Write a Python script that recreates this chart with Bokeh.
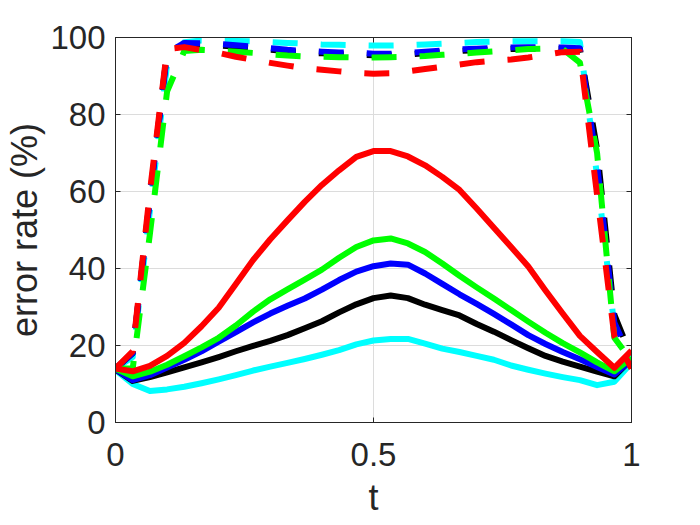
from bokeh.plotting import figure
from bokeh.models import Range1d, FixedTicker, LinearAxis
from bokeh.embed import file_html
from bokeh.resources import INLINE

t = [0.0, 0.0333, 0.0667, 0.1, 0.1333, 0.1667, 0.2, 0.2333, 0.2667, 0.3,
     0.3333, 0.3667, 0.4, 0.4333, 0.4667, 0.5, 0.5333, 0.5667, 0.6, 0.6333,
     0.6667, 0.7, 0.7333, 0.7667, 0.8, 0.8333, 0.8667, 0.9, 0.9333, 0.9667, 1.0]

red_solid = [14.0, 13.3, 14.7, 17.3, 20.7, 25.0, 29.8, 36.0, 42.2, 47.6, 52.5, 57.3, 61.7, 65.5, 69.0, 70.5,
             70.5, 69.1, 66.8, 63.8, 60.4, 55.6, 50.6, 45.6, 40.5, 34.3, 28.3, 22.5, 18.3, 14.2, 18.7]
green_solid = [14.0, 12.0, 13.2, 15.0, 17.2, 19.5, 22.0, 25.2, 28.8, 32.0, 34.6, 37.1, 39.7, 42.8, 45.6, 47.3,
               47.8, 46.5, 44.3, 41.3, 38.1, 35.1, 32.2, 29.2, 26.2, 23.3, 20.6, 18.2, 15.6, 13.3, 16.8]
blue_solid = [13.8, 11.0, 12.3, 14.3, 16.3, 18.5, 21.0, 23.5, 26.0, 28.3, 30.3, 32.2, 34.5, 37.0, 39.2, 40.6,
              41.3, 41.0, 38.7, 36.0, 33.3, 30.8, 28.2, 25.5, 22.7, 20.4, 18.3, 16.4, 14.4, 12.5, 16.2]
black_solid = [13.8, 10.8, 11.8, 13.0, 14.3, 15.6, 17.0, 18.5, 19.9, 21.2, 22.7, 24.5, 26.3, 28.6, 30.7, 32.3,
               33.0, 32.3, 30.6, 29.2, 27.8, 25.6, 23.6, 21.4, 19.3, 17.3, 15.8, 14.5, 13.2, 12.0, 16.5]
cyan_solid = [13.6, 10.0, 8.2, 8.6, 9.3, 10.2, 11.2, 12.3, 13.5, 14.5, 15.5, 16.5, 17.6, 18.8, 20.3, 21.3,
              21.7, 21.7, 20.5, 19.2, 18.3, 17.3, 16.3, 14.8, 13.7, 12.7, 11.8, 11.0, 9.7, 10.6, 15.5]

red_dash = [14.0, 18.5, 60.0, 97.0, 97.5, 96.7, 96.0, 95.0, 94.2, 93.4, 92.7, 92.0, 91.6, 91.2, 90.8, 90.6,
            90.7, 91.2, 91.8, 92.4, 93.0, 93.6, 94.0, 94.3, 94.8, 95.5, 96.2, 96.3, 59.0, 22.5, 14.0]
green_dash = [14.0, 14.0, 49.0, 86.0, 96.5, 96.8, 96.6, 96.3, 96.0, 95.6, 95.3, 95.1, 95.0, 94.9, 94.8, 94.8,
              94.9, 95.0, 95.2, 95.5, 95.8, 96.1, 96.4, 96.7, 97.0, 97.1, 97.0, 93.5, 70.0, 22.0, 16.0]
blue_dash = [14.0, 18.0, 58.0, 96.0, 98.6, 98.5, 98.3, 98.0, 97.6, 97.2, 96.8, 96.5, 96.3, 96.1, 96.0, 95.8,
             95.8, 96.0, 96.3, 96.6, 96.9, 97.1, 97.3, 97.4, 97.5, 97.5, 97.4, 97.2, 67.0, 26.0, 16.0]
black_dash = [14.0, 18.0, 58.5, 96.3, 98.2, 98.1, 97.9, 97.6, 97.2, 96.8, 96.4, 96.1, 95.9, 95.7, 95.6, 95.4,
              95.4, 95.6, 95.9, 96.2, 96.5, 96.7, 96.9, 97.0, 97.1, 97.1, 97.0, 97.0, 71.0, 28.0, 17.0]
cyan_dash = [14.0, 17.0, 55.0, 93.0, 98.8, 99.2, 99.2, 99.1, 99.0, 98.8, 98.6, 98.4, 98.2, 98.1, 98.0, 97.9,
             97.9, 98.0, 98.2, 98.4, 98.6, 98.8, 98.9, 99.0, 99.0, 99.0, 99.0, 98.8, 64.0, 25.0, 16.0]

x_ticks = [0, 0.5, 1]
x_tick_labels = ["0", "0.5", "1"]
y_ticks = [0, 20, 40, 60, 80, 100]
y_tick_labels = ["0", "20", "40", "60", "80", "100"]
x_title = "t"
y_title = "error rate (%)"

FONT = "Liberation Sans"
TXT = "#262626"

p = figure(width=689, height=522, output_backend="svg", toolbar_location=None,
           x_range=Range1d(0, 1), y_range=Range1d(0, 100),
           min_border_left=115, min_border_right=58, min_border_top=37, min_border_bottom=100)
p.background_fill_color = "white"
p.border_fill_color = "white"
p.outline_line_color = TXT
p.outline_line_width = 1

for ax, ticks, labels in ((p.xaxis[0], x_ticks, x_tick_labels), (p.yaxis[0], y_ticks, y_tick_labels)):
    ax.ticker = FixedTicker(ticks=ticks)
    ax.major_label_overrides = {tk: lb for tk, lb in zip(ticks, labels)}
    ax.major_tick_in = 5
    ax.major_tick_out = 0
    ax.minor_tick_line_color = None
    ax.axis_line_color = TXT
    ax.major_tick_line_color = TXT
    ax.major_label_text_font = FONT
    ax.major_label_text_font_size = "33px"
    ax.major_label_text_color = TXT
    ax.axis_label_text_font = FONT
    ax.axis_label_text_font_size = "36px"
    ax.axis_label_text_font_style = "normal"
    ax.axis_label_text_color = TXT

p.xaxis.axis_label = x_title
p.yaxis.axis_label = y_title
p.xaxis.major_label_standoff = 20
p.xaxis.axis_label_standoff = 8
p.yaxis.major_label_standoff = 10
p.yaxis.axis_label_standoff = 2

right = LinearAxis(ticker=FixedTicker(ticks=y_ticks), major_label_overrides={tk: "" for tk in y_ticks},
                   major_tick_in=5, major_tick_out=0, minor_tick_line_color=None,
                   axis_line_color=TXT, major_tick_line_color=TXT, major_label_standoff=0)
top = LinearAxis(ticker=FixedTicker(ticks=x_ticks), major_label_overrides={tk: "" for tk in x_ticks},
                 major_tick_in=5, major_tick_out=0, minor_tick_line_color=None,
                 axis_line_color=TXT, major_tick_line_color=TXT, major_label_standoff=0)
p.add_layout(right, "right")
p.add_layout(top, "above")

p.xgrid.ticker = FixedTicker(ticks=x_ticks)
p.ygrid.ticker = FixedTicker(ticks=y_ticks)
p.xgrid.grid_line_color = "#dcdcdc"
p.ygrid.grid_line_color = "#dcdcdc"

series = [
    ("#00ffff", cyan_solid, cyan_dash),
    ("#000000", black_solid, black_dash),
    ("#0000ff", blue_solid, blue_dash),
    ("#00ff00", green_solid, green_dash),
    ("#ff0000", red_solid, red_dash),
]
for color, solid, dash in series:
    p.line(t, solid, line_color=color, line_width=6, line_join="round")
    p.line(t, dash, line_color=color, line_width=6, line_dash="25 23", line_join="round", line_cap="butt")

open("out.html", "w").write(file_html(p, INLINE))
